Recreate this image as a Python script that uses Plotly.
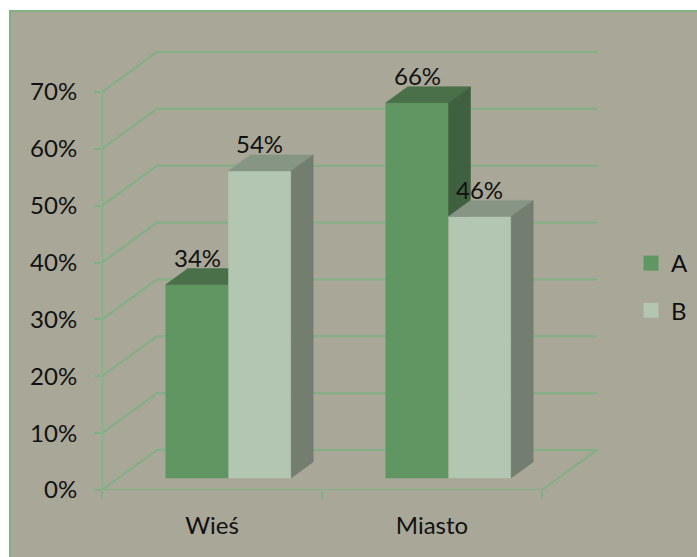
import plotly.graph_objects as go

# ---- data ----
categories = ["Wieś", "Miasto"]
series_names = ["A", "B"]
values_a = [0.34, 0.66]
values_b = [0.54, 0.46]
y_ticks = [0.0, 0.1, 0.2, 0.3, 0.4, 0.5, 0.6, 0.7]
y_tick_labels = ["0%", "10%", "20%", "30%", "40%", "50%", "60%", "70%"]

# ---- styling ----
FONT = "Lato"
FONT_SIZE = 24
BG = "#A9A797"
GRID = "#80B083"
FACE = {
    "A": dict(front="#5F9661", top="#4A7049", side="#40613F"),
    "B": dict(front="#B3C6B1", top="#869584", side="#737E70"),
}

W, H = 697, 557
ML, MR, MT, MB = 102, 89, 35, 67
X_RANGE = [0, 2.3]
Y_RANGE = [0, 0.8]
plot_w = W - ML - MR
plot_h = H - MT - MB
px_per_y = plot_h / (Y_RANGE[1] - Y_RANGE[0])

# oblique depth: full depth shifts right by 0.25 category units and up by 40 px
DX = 0.25
DY = 40 / px_per_y
BAR_W = 0.285          # width of one bar (category units)
D0, D1 = 0.3, 0.7      # depth span of the bars (fraction of floor depth)
V_MAX = y_ticks[-1]
N = len(categories)


def proj(u, v, d):
    return u + d * DX, v + d * DY


def poly(points):
    xs, ys = zip(*[proj(*p) for p in points])
    return list(xs) + [xs[0]], list(ys) + [ys[0]]


fig = go.Figure()


def line(points, width=2):
    xs, ys = zip(*[proj(*p) for p in points])
    fig.add_trace(go.Scatter(x=xs, y=ys, mode="lines",
                             line=dict(color=GRID, width=width),
                             hoverinfo="skip", showlegend=False))


def face(points, color):
    xs, ys = poly(points)
    fig.add_trace(go.Scatter(x=xs, y=ys, mode="lines", fill="toself",
                             fillcolor=color, line=dict(color=color, width=0.5),
                             hoverinfo="skip", showlegend=False))


# back wall and left wall gridlines
for v in y_ticks:
    line([(0, v, 0), (0, v, 1), (N, v, 1)])
# floor front and right edges, front value axis
line([(0, 0, 0), (N, 0, 0), (N, 0, 1)])
line([(0, 0, 0), (0, V_MAX, 0)])

# bars: front, top and right side faces
annotations = []
for ci, cat in enumerate(categories):
    center = ci + 0.5
    for si, (name, vals) in enumerate(zip(series_names, [values_a, values_b])):
        v = vals[ci]
        x0 = center - BAR_W + si * BAR_W
        x1 = x0 + BAR_W
        col = FACE[name]
        face([(x0, 0, D0), (x1, 0, D0), (x1, v, D0), (x0, v, D0)], col["front"])
        face([(x0, v, D0), (x1, v, D0), (x1, v, D1), (x0, v, D1)], col["top"])
        face([(x1, 0, D0), (x1, 0, D1), (x1, v, D1), (x1, v, D0)], col["side"])
        lx, ly = proj((x0 + x1) / 2, v, D0)
        annotations.append(dict(x=lx, y=ly, text=f"{round(v * 100)}%",
                                showarrow=False, yshift=27,
                                font=dict(family=FONT, size=FONT_SIZE, color="#111")))

# legend entries
for name in series_names:
    fig.add_trace(go.Scatter(x=[None], y=[None], mode="markers", name=name,
                             legendgroup=name,
                             marker=dict(symbol="square", size=15,
                                         color=FACE[name]["front"], line=dict(width=0))))


def paper_x(px):
    return (px - ML) / plot_w


def paper_y(py):
    return (H - MB - py) / plot_h


fig.update_layout(
    width=W, height=H,
    margin=dict(l=ML, r=MR, t=MT, b=MB, autoexpand=False),
    paper_bgcolor="white",
    plot_bgcolor="rgba(0,0,0,0)",
    font=dict(family=FONT, size=FONT_SIZE, color="#111"),
    showlegend=True,
    legend=dict(x=paper_x(631), y=paper_y(241), xanchor="left", yanchor="top",
                bgcolor="rgba(0,0,0,0)", tracegroupgap=13,
                font=dict(family=FONT, size=FONT_SIZE, color="#111")),
    annotations=annotations,
    shapes=[dict(type="rect", xref="paper", yref="paper", layer="below",
                 x0=paper_x(10), x1=paper_x(W + 10),
                 y0=paper_y(H + 10), y1=paper_y(11),
                 fillcolor=BG, line=dict(color=GRID, width=2))],
    xaxis=dict(range=X_RANGE, showgrid=False, zeroline=False, showline=False,
               tickvals=[i + 0.5 for i in range(N)], ticktext=categories,
               ticks="", ticklabelstandoff=19,
               minor=dict(tickvals=list(range(N + 1)), ticks="outside",
                          ticklen=7, tickwidth=2, tickcolor=GRID),
               fixedrange=True),
    yaxis=dict(range=Y_RANGE, showgrid=False, zeroline=False, showline=False,
               tickvals=y_ticks, ticktext=y_tick_labels,
               ticks="outside", ticklen=7, tickwidth=2, tickcolor=GRID,
               ticklabelstandoff=12, fixedrange=True),
)

fig.write_html("out.html")
